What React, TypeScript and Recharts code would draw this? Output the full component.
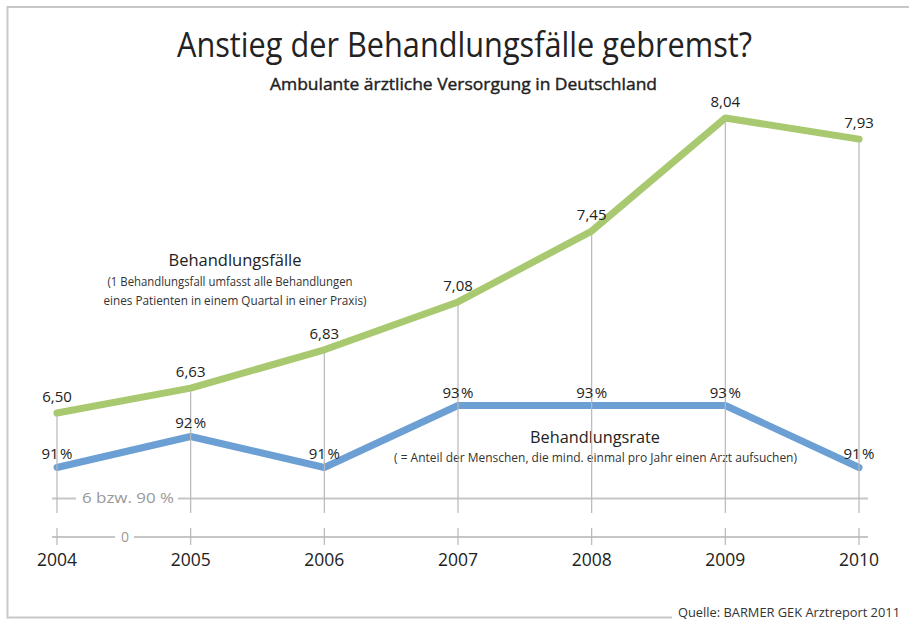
import { LineChart, Line, XAxis, YAxis, ReferenceLine, LabelList } from "recharts"

// Values
const years = ["2004", "2005", "2006", "2007", "2008", "2009", "2010"]
const behandlungsfaelle = [6.5, 6.63, 6.83, 7.08, 7.45, 8.04, 7.93]
const behandlungsrate = [91, 92, 91, 93, 93, 93, 91]
const baselineRate = 90

const data = years.map((year, i) => ({
  year,
  faelle: behandlungsfaelle[i],
  rate: behandlungsrate[i],
}))

const WIDTH = 909
const HEIGHT = 623
const MARGIN = { top: 100, right: 41, bottom: 46, left: 52 }
const AXIS_HEIGHT = 40
const PLOT_BOTTOM = HEIGHT - MARGIN.bottom - AXIS_HEIGHT
const BREAK_TOP = PLOT_BOTTOM - 24

const FONT = "'Open Sans', 'Noto Sans', sans-serif"
const GREEN = "#a8c96f"
const BLUE = "#6c9fd3"
const GRID = "#b8b8b8"
const AXIS_GREY = "#c6c6c6"

// vertical drop line from each point down to the axis break
const DropLine = (props: any) => {
  const { cx, cy, index } = props
  if (cx == null || cy == null) return <g key={`drop-${index}`} />
  return <line key={`drop-${index}`} x1={cx} y1={cy + 3} x2={cx} y2={BREAK_TOP} stroke={GRID} strokeWidth={1.2} />
}

const YearTick = (props: any) => {
  const { x, y, payload, index } = props
  return (
    <g>
      <line x1={x} y1={y - 9} x2={x} y2={y + 8} stroke={GRID} strokeWidth={1.2} />
      <text x={x} y={y + 29} textAnchor="middle" fontSize={17.5} fontFamily={FONT} fill="#222">
        {payload.value}
      </text>
      {index === 0 && (
        <g>
          <rect x={x + 58} y={y - 8} width={19} height={16} fill="#fff" />
          <text x={x + 68} y={y + 5} textAnchor="middle" fontSize={14} fontFamily={FONT} fill="#999">
            0
          </text>
        </g>
      )}
    </g>
  )
}

const BreakLabel = (props: any) => {
  const { viewBox } = props
  if (!viewBox) return null
  return (
    <g>
      <rect x={viewBox.x + 24} y={viewBox.y - 8} width={102} height={16} fill="#fff" />
      <text
        x={viewBox.x + 76}
        y={viewBox.y + 5}
        textAnchor="middle"
        fontSize={14.5}
        fontFamily={FONT}
        fill="#999"
        textLength={92}
        lengthAdjust="spacingAndGlyphs"
      >
        6 bzw. 90 %
      </text>
    </g>
  )
}

export default function App() {
  return (
    <div style={{ position: "absolute", left: 0, top: 0, width: WIDTH, height: HEIGHT, background: "#fff", overflow: "hidden" }}>
      <svg width={WIDTH} height={HEIGHT} style={{ position: "absolute", left: 0, top: 0 }} fontFamily={FONT}>
        <rect x={7.5} y={7} width={920} height={610.5} fill="none" stroke="#c8c8c8" strokeWidth={2} />
        <text x={464.5} y={57} textAnchor="middle" fontSize={34} fill="#222" textLength={575} lengthAdjust="spacingAndGlyphs">
          Anstieg der Behandlungsfälle gebremst?
        </text>
        <text
          x={463.5}
          y={90}
          textAnchor="middle"
          fontSize={16}
          fill="#222"
          stroke="#222"
          strokeWidth={0.4}
          textLength={387}
          lengthAdjust="spacingAndGlyphs"
        >
          Ambulante ärztliche Versorgung in Deutschland
        </text>
        <text x={235} y={266} textAnchor="middle" fontSize={17} fill="#222" textLength={133} lengthAdjust="spacingAndGlyphs">
          Behandlungsfälle
        </text>
        <text x={230} y={286} textAnchor="middle" fontSize={12.5} fill="#333" textLength={245} lengthAdjust="spacingAndGlyphs">
          (1 Behandlungsfall umfasst alle Behandlungen
        </text>
        <text x={235} y={305} textAnchor="middle" fontSize={12.5} fill="#333" textLength={263} lengthAdjust="spacingAndGlyphs">
          eines Patienten in einem Quartal in einer Praxis)
        </text>
        <text x={595} y={443} textAnchor="middle" fontSize={17} fill="#222" textLength={130} lengthAdjust="spacingAndGlyphs">
          Behandlungsrate
        </text>
        <text x={595.5} y={462} textAnchor="middle" fontSize={12} fill="#333" textLength={403} lengthAdjust="spacingAndGlyphs">
          ( = Anteil der Menschen, die mind. einmal pro Jahr einen Arzt aufsuchen)
        </text>
        <rect x={672} y={606} width={240} height={17} fill="#fff" />
        <text x={678} y={617} fontSize={13} fill="#333" textLength={222} lengthAdjust="spacingAndGlyphs">
          Quelle: BARMER GEK Arztreport 2011
        </text>
      </svg>

      <div style={{ position: "absolute", left: 0, top: 0 }}>
        <LineChart width={WIDTH} height={HEIGHT} data={data} margin={MARGIN}>
          <XAxis
            dataKey="year"
            height={AXIS_HEIGHT}
            padding={{ left: 5, right: 9 }}
            axisLine={{ stroke: AXIS_GREY, strokeWidth: 2 }}
            tickLine={false}
            tickSize={0}
            tickMargin={0}
            interval={0}
            tick={<YearTick />}
          />
          <YAxis yAxisId="faelle" hide type="number" domain={[5.853, 8.134]} />
          <YAxis yAxisId="rate" hide type="number" orientation="right" domain={[88.758, 102.855]} />
          <ReferenceLine
            yAxisId="rate"
            y={baselineRate}
            stroke={AXIS_GREY}
            strokeWidth={2}
            label={BreakLabel}
          />
          <Line
            yAxisId="faelle"
            dataKey="faelle"
            stroke={GREEN}
            strokeWidth={7}
            strokeLinecap="round"
            strokeLinejoin="round"
            dot={DropLine}
            activeDot={false}
            isAnimationActive={false}
          >
            <LabelList
              dataKey="faelle"
              position="top"
              offset={11}
              fontSize={15}
              fontFamily={FONT}
              fill="#222"
              formatter={(v: any) => Number(v).toFixed(2).replace(".", ",")}
            />
          </Line>
          <Line
            yAxisId="rate"
            dataKey="rate"
            stroke={BLUE}
            strokeWidth={7}
            strokeLinecap="round"
            strokeLinejoin="round"
            dot={false}
            activeDot={false}
            isAnimationActive={false}
          >
            <LabelList
              dataKey="rate"
              position="top"
              offset={8}
              fontSize={15}
              fontFamily={FONT}
              fill="#222"
              formatter={(v: any) => `${v}\u200A%`}
            />
          </Line>
        </LineChart>
      </div>
    </div>
  )
}
